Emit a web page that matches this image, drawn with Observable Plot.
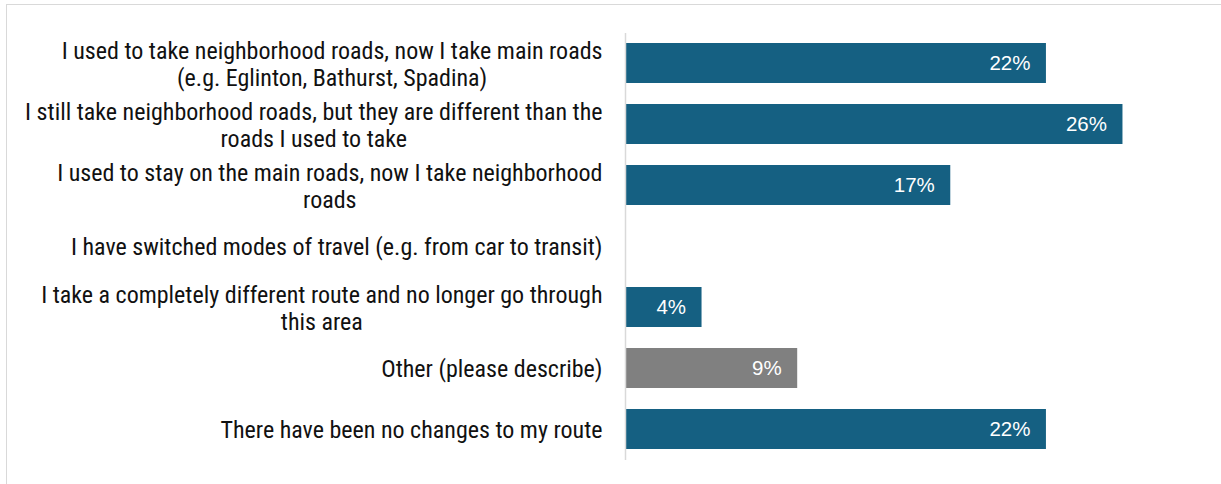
<!DOCTYPE html>
<html>
<head>
<meta charset="utf-8">
<script src="https://cdn.jsdelivr.net/npm/d3@7"></script>
<script src="https://cdn.jsdelivr.net/npm/@observablehq/plot@0.6"></script>
<style>
  html, body { margin: 0; padding: 0; background: #fff; }
  #wrap { position: relative; width: 1221px; height: 484px; overflow: hidden; }
  #frame { position: absolute; left: 6px; top: 4px; right: -2px; bottom: -2px;
           border-top: 1px solid #d9d9d9; border-left: 1px solid #d9d9d9; pointer-events: none; }
  svg { display: block; }
</style>
</head>
<body>
<div id="wrap"><div id="frame"></div></div>
<script>
const categories = [
  "I used to take neighborhood roads, now I take main roads (e.g. Eglinton, Bathurst, Spadina)",
  "I still take neighborhood roads, but they are different than the roads I used to take",
  "I used to stay on the main roads, now I take neighborhood roads",
  "I have switched modes of travel (e.g. from car to transit)",
  "I take a completely different route and no longer go through this area",
  "Other (please describe)",
  "There have been no changes to my route"
];
const tickLabels = [
  "I used to take neighborhood roads, now I take main roads\n(e.g. Eglinton, Bathurst, Spadina)",
  "I still take neighborhood roads, but they are different than the\nroads I used to take",
  "I used to stay on the main roads, now I take neighborhood\nroads",
  "I have switched modes of travel (e.g. from car to transit)",
  "I take a completely different route and no longer go through\nthis area",
  "Other (please describe)",
  "There have been no changes to my route"
];
const values = [22, 26, 17, 0, 4, 9, 22];

const data = categories.map((c, i) => ({category: c, value: values[i]}));
const BLUE = "#156082", GRAY = "#808080";
const labelFont = "'Liberation Sans Narrow', 'Roboto Condensed', 'Liberation Sans', sans-serif";
const valueFont = "'Liberation Sans', Arial, sans-serif";

const chart = Plot.plot({
  width: 1221,
  height: 484,
  marginLeft: 625,
  marginRight: 22,
  marginTop: 33,
  marginBottom: 24,
  style: {fontFamily: labelFont, color: "#000", background: "transparent"},
  x: {domain: [0, 30], axis: null},
  y: {domain: categories, paddingInner: 0.34, paddingOuter: 0.17, axis: null},
  marks: [
    Plot.barX(data, {
      x: "value", y: "category",
      fill: d => d.category === "Other (please describe)" ? GRAY : BLUE
    }),
    Plot.ruleX([0], {stroke: "#d9d9d9", strokeWidth: 1.5}),
    Plot.text(data.filter(d => d.value > 0), {
      x: "value", y: "category",
      text: d => d.value + "%",
      textAnchor: "end", dx: -16, dy: 0,
      fill: "white", fontSize: 20.5, fontFamily: valueFont
    }),
    Plot.axisY({
      tickSize: 0, tickPadding: 23,
      tickFormat: d => tickLabels[categories.indexOf(d)],
      fontSize: 24, lineHeight: 1.125, fill: "#111",
      label: null
    })
  ]
});
document.getElementById("wrap").prepend(chart);

// Multi-line tick labels: block right-aligned, lines centred within the block (as in Excel)
chart.querySelectorAll("text").forEach(t => {
  const spans = t.querySelectorAll("tspan");
  if (spans.length < 2) return;
  const widths = Array.from(spans, s => s.getComputedTextLength());
  const maxW = Math.max(...widths);
  t.setAttribute("text-anchor", "middle");
  spans.forEach(s => s.setAttribute("x", String(-maxW / 2)));
});
</script>
</body>
</html>
